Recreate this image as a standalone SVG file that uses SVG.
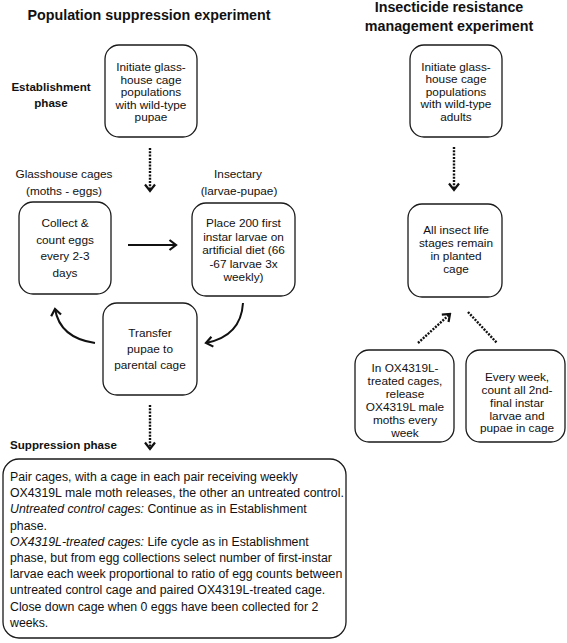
<svg xmlns="http://www.w3.org/2000/svg" width="567" height="643" viewBox="0 0 567 643">
<defs>
<style>
text{font-family:"Liberation Sans",Arial,sans-serif;fill:#111;}
.t{font-size:11.8px;text-anchor:middle;}
.h{font-size:14.3px;font-weight:bold;text-anchor:middle;}
.p{font-size:11.6px;font-weight:bold;}
.s{font-size:12.3px;}
.box{fill:#fff;stroke:#1a1a1a;stroke-width:1.3;}
.dot{fill:none;stroke:#111;stroke-width:2.4;stroke-dasharray:2 1.3;}
.sol{fill:none;stroke:#111;stroke-width:2;}
</style>
<marker id="chev" markerUnits="userSpaceOnUse" viewBox="-9 -7 11 14" markerWidth="11" markerHeight="14" refX="0" refY="0" orient="auto">
<path d="M-6.5,-5 L0,0 L-6.5,5" fill="none" stroke="#111" stroke-width="2.2"/>
</marker>
</defs>
<rect width="567" height="643" fill="#fff"/>

<g id="labels">
<text class="h" x="149" y="20">Population suppression experiment</text>
<text class="h" x="449" y="12">Insecticide resistance</text>
<text class="h" x="449" y="31">management experiment</text>
<text class="p" x="51" y="91" text-anchor="middle">Establishment</text>
<text class="p" x="51" y="107" text-anchor="middle">phase</text>
<text class="t" x="64" y="178">Glasshouse cages</text>
<text class="t" x="64" y="195">(moths - eggs)</text>
<text class="t" x="238" y="178">Insectary</text>
<text class="t" x="239" y="195">(larvae-pupae)</text>
<text class="p" x="10" y="449">Suppression phase</text>
</g>

<g id="connectors">
<line class="dot" x1="150" y1="148" x2="150" y2="191" marker-end="url(#chev)"/>
<line class="dot" x1="150" y1="405" x2="150" y2="449" marker-end="url(#chev)"/>
<line class="dot" x1="454" y1="147" x2="454" y2="190" marker-end="url(#chev)"/>
<line class="dot" x1="418" y1="343" x2="450" y2="314" marker-end="url(#chev)"/>
<line class="dot" x1="468" y1="312" x2="497" y2="343"/>
<line class="sol" x1="128" y1="245" x2="176" y2="245" marker-end="url(#chev)"/>
<path class="sol" d="M243,303 Q241,336 206,343" marker-end="url(#chev)"/>
<path class="sol" d="M95,343 Q60,338 55,309" marker-end="url(#chev)"/>
</g>

<g id="n-init-ps">
<rect class="box" x="105" y="45" width="92" height="92" rx="14"/>
<text class="t" x="151" y="71">Initiate glass-</text>
<text class="t" x="151" y="83.5">house cage</text>
<text class="t" x="151" y="96">populations</text>
<text class="t" x="151" y="108.5">with wild-type</text>
<text class="t" x="151" y="121">pupae</text>
</g>

<g id="n-collect">
<rect class="box" x="19" y="202" width="92" height="92" rx="14"/>
<text class="t" x="65" y="227">Collect &amp;</text>
<text class="t" x="65" y="243.5">count eggs</text>
<text class="t" x="65" y="260">every 2-3</text>
<text class="t" x="65" y="276.5">days</text>
</g>

<g id="n-place">
<rect class="box" x="192" y="203" width="103" height="93" rx="14"/>
<text class="t" x="243.5" y="227">Place 200 first</text>
<text class="t" x="243.5" y="240.5">instar larvae on</text>
<text class="t" x="243.5" y="254">artificial diet (66</text>
<text class="t" x="243.5" y="267.5">-67 larvae 3x</text>
<text class="t" x="243.5" y="281">weekly)</text>
</g>

<g id="n-transfer">
<rect class="box" x="103" y="303" width="94" height="92" rx="14"/>
<text class="t" x="150" y="337">Transfer</text>
<text class="t" x="150" y="353">pupae to</text>
<text class="t" x="150" y="369">parental cage</text>
</g>

<g id="n-suppression">
<rect class="box" x="3" y="459" width="343" height="179" rx="16"/>
<text class="s" x="10" y="481">Pair cages, with a cage in each pair receiving weekly</text>
<text class="s" x="10" y="497.2">OX4319L male moth releases, the other an untreated control.</text>
<text class="s" x="10" y="513.4"><tspan font-style="italic">Untreated control cages:</tspan> Continue as in Establishment</text>
<text class="s" x="10" y="529.6">phase.</text>
<text class="s" x="10" y="545.8"><tspan font-style="italic">OX4319L-treated cages:</tspan> Life cycle as in Establishment</text>
<text class="s" x="10" y="562">phase, but from egg collections select number of first-instar</text>
<text class="s" x="10" y="578.2">larvae each week proportional to ratio of egg counts between</text>
<text class="s" x="10" y="594.4">untreated control cage and paired OX4319L-treated cage.</text>
<text class="s" x="10" y="610.6">Close down cage when 0 eggs have been collected for 2</text>
<text class="s" x="10" y="626.8">weeks.</text>
</g>

<g id="n-init-irm">
<rect class="box" x="410" y="45" width="92" height="92" rx="14"/>
<text class="t" x="456" y="70.5">Initiate glass-</text>
<text class="t" x="456" y="83">house cage</text>
<text class="t" x="456" y="95.5">populations</text>
<text class="t" x="456" y="108">with wild-type</text>
<text class="t" x="456" y="120.5">adults</text>
</g>

<g id="n-all">
<rect class="box" x="408" y="204" width="94" height="93" rx="14"/>
<text class="t" x="456" y="234">All insect life</text>
<text class="t" x="456" y="247">stages remain</text>
<text class="t" x="456" y="260">in planted</text>
<text class="t" x="456" y="273">cage</text>
</g>

<g id="n-release">
<rect class="box" x="355" y="350" width="99" height="92" rx="14"/>
<text class="t" x="405" y="372">In OX4319L-</text>
<text class="t" x="405" y="385">treated cages,</text>
<text class="t" x="405" y="398">release</text>
<text class="t" x="405" y="411">OX4319L male</text>
<text class="t" x="405" y="424">moths  every</text>
<text class="t" x="405" y="437">week</text>
</g>

<g id="n-count">
<rect class="box" x="466" y="350" width="99" height="92" rx="14"/>
<text class="t" x="517" y="381">Every week,</text>
<text class="t" x="517" y="394">count all 2nd-</text>
<text class="t" x="517" y="407">final instar</text>
<text class="t" x="517" y="419.5">larvae and</text>
<text class="t" x="517" y="432">pupae in cage</text>
</g>
</svg>
